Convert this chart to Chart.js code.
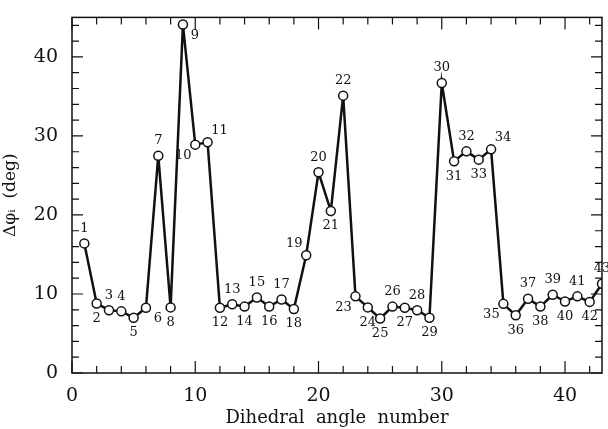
<!DOCTYPE html>
<html lang="en">
  <head>
    <meta charset="UTF-8" />
    <title>Dihedral angle</title>
    <style>
      * { margin: 0; padding: 0; box-sizing: border-box; }
      body { width: 608px; height: 429px; background: #fff; }
      .wrapper { position: relative; width: 608px; height: 429px; }
    </style>
  </head>
  <body>
    <div class="wrapper"><canvas id="chart"></canvas></div>

    <script src="https://cdn.jsdelivr.net/npm/chart.js@4.4.0/dist/chart.umd.min.js"></script>
    <script>
      // dihedral angle number and the measured delta phi (deg)
      const angleNumbers = [
        1, 2, 3, 4, 5, 6, 7, 8, 9, 10, 11, 12, 13, 14, 15, 16, 17, 18, 19, 20, 21, 22,
        23, 24, 25, 26, 27, 28, 29, 30, 31, 32, 33, 34, 35, 36, 37, 38, 39, 40, 41, 42, 43,
      ];
      const deltaPhi = [
        16.4, 8.8, 7.95, 7.8, 7.0, 8.25, 27.5, 8.3, 44.1, 28.9, 29.2,
        8.25, 8.7, 8.4, 9.55, 8.4, 9.3, 8.1, 14.9, 25.4, 20.5, 35.1,
        9.7, 8.3, 6.9, 8.4, 8.25, 7.95, 7.0, 36.7, 26.8, 28.05, 27.0, 28.3,
        8.75, 7.3, 9.4, 8.4, 9.9, 9.05, 9.7, 9.0, 11.3,
      ];
      const xTickLabels = [0, 10, 20, 30, 40];
      const yTickLabels = [0, 10, 20, 30, 40];

      // where each number label sits round its point
      const labelSide = [
        "t", "b", "t", "t", "b", "br", "t", "b", "br", "bl", "tr",
        "b", "t", "b", "t", "b", "t", "b", "tl", "t", "b", "t",
        "bl", "b", "b", "t", "b", "t", "b", "t", "b", "t", "b", "tr",
        "bl", "b", "t", "b", "t", "b", "t", "b", "t",
      ];

      const serif = "'DejaVu Serif', serif";

      // inward ticks on all four sides + top/right frame
      const frame = {
        id: "frame",
        afterDraw(chart) {
          const { ctx, chartArea: a, scales } = chart;
          const x = scales.x, y = scales.y;
          ctx.save();
          ctx.strokeStyle = "#111";
          ctx.lineWidth = 1.5;
          ctx.strokeRect(a.left, a.top, a.right - a.left, a.bottom - a.top);
          ctx.lineWidth = 1.2;
          ctx.beginPath();
          for (let v = 0; v <= x.max; v += 2) {
            const px = x.getPixelForValue(v);
            const len = v % 10 === 0 ? 12 : 7;
            ctx.moveTo(px, a.bottom);
            ctx.lineTo(px, a.bottom - len);
            ctx.moveTo(px, a.top);
            ctx.lineTo(px, a.top + len);
          }
          for (let v = 0; v <= y.max; v += 2) {
            const py = y.getPixelForValue(v);
            const len = v % 10 === 0 ? 11 : 7;
            ctx.moveTo(a.left, py);
            ctx.lineTo(a.left + len, py);
            ctx.moveTo(a.right, py);
            ctx.lineTo(a.right - len, py);
          }
          ctx.stroke();
          ctx.restore();
        },
      };

      // point number labels
      const pointNames = {
        id: "pointNames",
        afterDatasetsDraw(chart) {
          const { ctx } = chart;
          const meta = chart.getDatasetMeta(0);
          ctx.save();
          ctx.fillStyle = "#111";
          ctx.font = "13px " + serif;
          ctx.textAlign = "center";
          ctx.textBaseline = "middle";
          meta.data.forEach((pt, i) => {
            const side = labelSide[i];
            let dx = 0, dy = 0;
            if (side.includes("t")) dy = -15;
            if (side.includes("b")) dy = 15;
            if (side.includes("l")) dx = -12;
            if (side.includes("r")) dx = 12;
            if (side.length === 2) dy = dy * 0.75;
            ctx.fillText(String(angleNumbers[i]), pt.x + dx, pt.y + dy);
          });
          ctx.restore();
        },
      };

      new Chart(document.getElementById("chart"), {
        type: "line",
        plugins: [frame, pointNames],
        data: {
          datasets: [
            {
              data: angleNumbers.map((n, i) => ({ x: n, y: deltaPhi[i] })),
              borderColor: "#111",
              borderWidth: 2.5,
              pointRadius: 4.5,
              pointBackgroundColor: "#fff",
              pointBorderColor: "#111",
              pointBorderWidth: 1.5,
              tension: 0,
            },
          ],
        },
        options: {
          responsive: true,
          maintainAspectRatio: false,
          animation: false,
          layout: { padding: { top: 14, right: 6, left: 0, bottom: 0 } },
          plugins: { legend: { display: false }, tooltip: { enabled: false } },
          scales: {
            x: {
              type: "linear",
              min: 0,
              max: 43,
              afterFit: (s) => { s.height = 56; },
              afterBuildTicks: (s) => { s.ticks = xTickLabels.map((v) => ({ value: v })); },
              grid: { display: false },
              border: { display: false },
              ticks: {
                color: "#111",
                padding: 4,
                font: { family: serif, size: 19 },
                maxRotation: 0,
              },
              title: {
                display: true,
                text: "Dihedral  angle  number",
                color: "#111",
                font: { family: serif, size: 18 },
                padding: { top: 0, bottom: 0 },
              },
            },
            y: {
              min: 0,
              max: 45,
              afterFit: (s) => { s.width = 72; },
              afterBuildTicks: (s) => { s.ticks = yTickLabels.map((v) => ({ value: v })); },
              grid: { display: false },
              border: { display: false },
              ticks: {
                color: "#111",
                padding: 6,
                font: { family: serif, size: 19 },
              },
              title: {
                display: true,
                text: "Δφᵢ  (deg)",
                color: "#111",
                font: { family: serif, size: 17 },
                padding: { top: 0, bottom: 4 },
              },
            },
          },
        },
      });
    </script>
  </body>
</html>
